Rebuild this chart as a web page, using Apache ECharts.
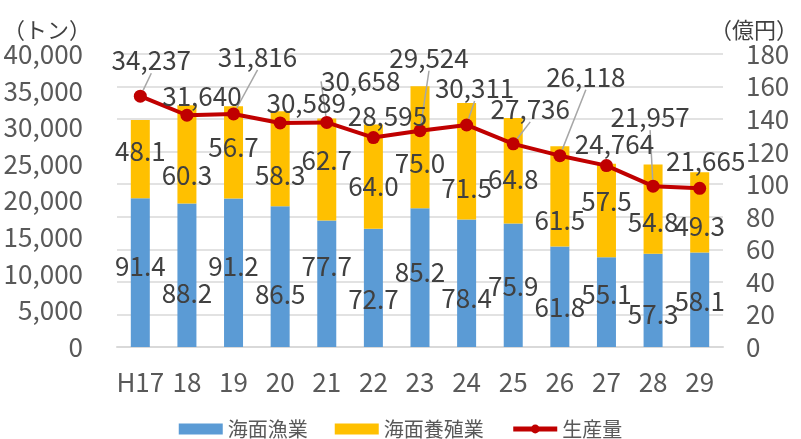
<!DOCTYPE html>
<html>
<head>
<meta charset="utf-8">
<script src="https://cdn.jsdelivr.net/npm/echarts@6/dist/echarts.min.js"></script>
<style>
  html, body { margin: 0; padding: 0; background: #fff; }
  #chart { width: 801px; height: 439px; }
</style>
</head>
<body>
<div id="chart"></div>
<script>
// data
const years = ['H17', '18', '19', '20', '21', '22', '23', '24', '25', '26', '27', '28', '29'];
const fishing = [91.4, 88.2, 91.2, 86.5, 77.7, 72.7, 85.2, 78.4, 75.9, 61.8, 55.1, 57.3, 58.1];      // 海面漁業 (億円)
const aquaculture = [48.1, 60.3, 56.7, 58.3, 62.7, 64.0, 75.0, 71.5, 64.8, 61.5, 57.5, 54.8, 49.3]; // 海面養殖業 (億円)
const production = [34237, 31640, 31816, 30589, 30658, 28595, 29524, 30311, 27736, 26118, 24764, 21957, 21665]; // 生産量 (トン)

// label placement (style only)
const lineLabelShift = [[11, -36], [15, -19], [24, -57], [26, -20], [34, -41], [14, -21], [9, -73],
  [8, -37], [17, -35], [26, -79], [8, -21], [-3, -69], [6, -27]];
const lineLeader = [true, false, true, false, true, false, true, true, true, true, false, true, false];
const fishLabelDy = [-6, 18, -7, 18, -18, 11, -6, 15, 1, 10, -8, 14, 1];
const aquaLabelDy = [-8, 21, -5, 16, -9, 10, 16, 27, 8, 24, -9, 13, 14];

const textColor = '#404040';
const axisColor = '#595959';
const font = 'Noto Sans CJK JP';

const chart = echarts.init(document.getElementById('chart'));

const barLabel = {
  show: true,
  position: 'inside',
  color: textColor,
  fontSize: 26,
  fontFamily: font,
  textBorderWidth: 0,
  formatter: p => p.value.toFixed(1)
};

chart.setOption({
  animation: false,
  textStyle: { fontFamily: font },
  grid: { left: 117, right: 75, top: 54, bottom: 92 },
  legend: {
    left: 'center',
    top: 414,
    itemWidth: 44,
    itemHeight: 11,
    itemGap: 27,
    textStyle: { fontSize: 20, color: axisColor, fontFamily: font },
    data: [
      { name: '海面漁業', icon: 'rect' },
      { name: '海面養殖業', icon: 'rect' },
      { name: '生産量', lineStyle: { width: 5 } }
    ]
  },
  xAxis: {
    type: 'category',
    data: years,
    axisLine: { lineStyle: { color: '#D9D9D9', width: 2 } },
    axisTick: { show: false },
    axisLabel: { color: axisColor, fontSize: 26, margin: 22, interval: 0 }
  },
  yAxis: [
    {
      type: 'value',
      min: 0,
      max: 40000,
      interval: 5000,
      name: '（トン）',
      nameGap: 6,
      nameTextStyle: { color: textColor, fontSize: 22, align: 'center', padding: [0, 140, 0, 0] },
      axisLine: { show: false },
      axisTick: { show: false },
      splitLine: { show: false },
      axisLabel: {
        color: axisColor,
        fontSize: 26,
        margin: 34,
        formatter: v => v.toLocaleString('en-US')
      }
    },
    {
      type: 'value',
      min: 0,
      max: 180,
      interval: 20,
      name: '（億円）',
      nameGap: 6,
      nameTextStyle: { color: textColor, fontSize: 22, align: 'center', padding: [0, 0, 0, 62] },
      axisLine: { show: false },
      axisTick: { show: false },
      splitLine: { lineStyle: { color: '#D9D9D9', width: 1.5 } },
      axisLabel: { color: axisColor, fontSize: 26, margin: 23 }
    }
  ],
  series: [
    {
      name: '海面漁業',
      type: 'bar',
      stack: 'value',
      yAxisIndex: 1,
      barWidth: 19,
      itemStyle: { color: '#5B9BD5' },
      label: barLabel,
      labelLayout: p => ({ dy: fishLabelDy[p.dataIndex] }),
      data: fishing
    },
    {
      name: '海面養殖業',
      type: 'bar',
      stack: 'value',
      yAxisIndex: 1,
      barWidth: 19,
      itemStyle: { color: '#FFC000' },
      label: barLabel,
      labelLayout: p => ({ dy: aquaLabelDy[p.dataIndex] }),
      data: aquaculture
    },
    {
      name: '生産量',
      type: 'line',
      yAxisIndex: 0,
      symbol: 'circle',
      symbolSize: 13,
      lineStyle: { color: '#C00000', width: 4 },
      itemStyle: { color: '#C00000' },
      z: 5,
      label: {
        show: true,
        position: 'inside',
        color: textColor,
        fontSize: 26,
        fontFamily: font,
        formatter: p => p.value.toLocaleString('en-US')
      },
      labelLine: { show: true, lineStyle: { color: '#A6A6A6', width: 1.5 } },
      labelLayout: p => ({ dx: lineLabelShift[p.dataIndex][0], dy: lineLabelShift[p.dataIndex][1] }),
      data: production.map((v, i) => ({ value: v, labelLine: { show: lineLeader[i] } }))
    }
  ]
});
</script>
</body>
</html>
